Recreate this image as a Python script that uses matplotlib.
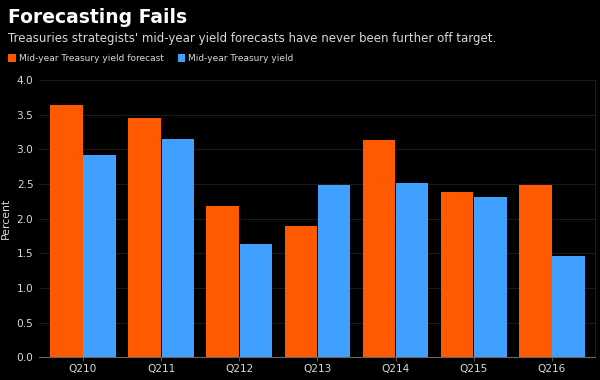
import matplotlib
matplotlib.use("Agg")
import matplotlib.pyplot as plt
import numpy as np

categories = ["Q210", "Q211", "Q212", "Q213", "Q214", "Q215", "Q216"]
forecast = [3.64, 3.46, 2.19, 1.89, 3.13, 2.39, 2.49]
actual = [2.92, 3.15, 1.635, 2.48, 2.52, 2.31, 1.46]
yticks = [0.0, 0.5, 1.0, 1.5, 2.0, 2.5, 3.0, 3.5, 4.0]

ORANGE = "#FF5A00"
BLUE = "#3FA0FF"
TXT = "#d9d9d9"

plt.rcParams['font.family'] = ['DejaVu Sans']
fig = plt.figure(figsize=(6, 3.8), dpi=100, facecolor="black")
ax = fig.add_axes([0.065, 0.06, 0.927, 0.729], facecolor="black")

x = np.arange(len(categories))
w = 0.415
b1 = ax.bar(x - w / 2 - 0.005, forecast, w, color=ORANGE, label="Mid-year Treasury yield forecast", zorder=3)
b2 = ax.bar(x + w / 2 + 0.005, actual, w, color=BLUE, label="Mid-year Treasury yield", zorder=3)

ax.set_xlim(-0.563, 6.554)
ax.set_ylim(0, 4.0)
ax.set_yticks(yticks)
ax.set_yticklabels([f"{v:.1f}" for v in yticks])
ax.set_xticks(x)
ax.set_xticklabels(categories)
ax.tick_params(axis="both", colors=TXT, labelsize=7.6, length=0, pad=4)
ax.tick_params(axis="x", length=3, color="#555555", pad=2)
ax.grid(axis="y", color="#1a1a1a", linewidth=0.8, zorder=0)
for s in ["top", "left"]:
    ax.spines[s].set_visible(False)
ax.spines["right"].set_color("#1c1c1c")
ax.spines["bottom"].set_color("#666666")
ax.set_ylabel("Percent", color=TXT, fontsize=7.8, labelpad=4)

fig.text(0.013, 0.978, "Forecasting Fails", color="white", fontsize=13.5, fontweight="bold", va="top", ha="left")
fig.text(0.013, 0.916, "Treasuries strategists' mid-year yield forecasts have never been further off target.",
         color=TXT, fontsize=8.5, va="top", ha="left")
fig.legend(handles=[b1, b2], loc="upper left", bbox_to_anchor=(0.011, 0.862), ncol=2, frameon=False,
           fontsize=6.5, labelcolor=TXT, handlelength=0.85, handleheight=1.0, handletextpad=0.35,
           columnspacing=1.5, borderaxespad=0, borderpad=0.2)

fig.savefig("out.png", dpi=100, facecolor="black")
